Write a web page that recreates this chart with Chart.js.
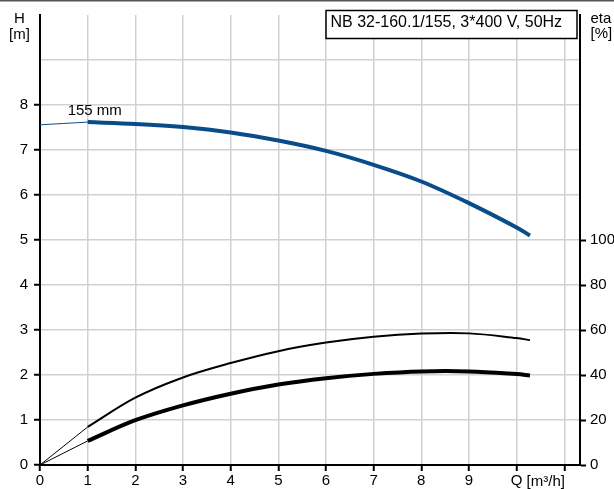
<!DOCTYPE html>
<html>
<head>
<meta charset="utf-8">
<script src="https://cdn.jsdelivr.net/npm/chart.js@4"></script>
<style>
  html, body { margin: 0; padding: 0; background: #fff; }
  #wrap { width: 614px; height: 489px; }
</style>
</head>
<body>
<div id="wrap"><canvas id="pumpChart" width="614" height="489"></canvas></div>
<script>
// flow points of the duty curves (m3/h)
const flowQ = [1, 2, 3, 4, 5, 6, 7, 8, 9, 10, 10.28];
const headH = [7.62, 7.58, 7.51, 7.39, 7.21, 6.98, 6.67, 6.30, 5.82, 5.28, 5.10];
const etaPump = [16.9, 29.9, 38.9, 45.3, 50.6, 54.4, 57.0, 58.4, 58.5, 56.4, 55.5];
const etaTotal = [10.7, 19.9, 26.5, 31.7, 35.8, 38.6, 40.5, 41.6, 41.6, 40.4, 39.8];

// thin run-in parts from Q = 0 to Q = 1
const startQ = [0, 1];
const headStart = [7.56, 7.62];
const etaPumpStart = [0, 16.9];
const etaTotalStart = [0, 10.7];

const qTicks = [0, 1, 2, 3, 4, 5, 6, 7, 8, 9, 10, 11];
const hTicks = [0, 1, 2, 3, 4, 5, 6, 7, 8, 9];
const etaTicks = [0, 20, 40, 60, 80, 100];

const title = 'NB 32-160.1/155, 3*400 V, 50Hz';
const curveLabel = '155 mm';

const FONT = "'Liberation Sans', Arial, sans-serif";
const gridGray = '#cfd2d5';
const blue = '#084d89';

const pts = (xs, ys) => xs.map((x, i) => ({ x: x, y: ys[i] }));

const decor = {
  id: 'decor',
  afterDraw(chart) {
    const c = chart.ctx;
    const x = chart.scales.x, y = chart.scales.y;
    c.save();
    // top border of the picture
    c.fillStyle = '#555';
    c.fillRect(0, 0, chart.width, 1.5);

    // title box
    c.fillStyle = '#fff';
    c.fillRect(326, 10.5, 251, 28);
    c.strokeStyle = '#000';
    c.lineWidth = 1.5;
    c.strokeRect(326, 10.5, 251, 28);
    c.fillStyle = '#000';
    c.font = '16px ' + FONT;
    c.textAlign = 'left';
    c.textBaseline = 'alphabetic';
    c.fillText(title, 330.5, 26.5);

    // axis titles
    c.font = '15px ' + FONT;
    c.textAlign = 'center';
    c.fillText('H', 19.5, 22.7);
    c.fillText('[m]', 19.5, 38.5);
    c.textAlign = 'left';
    c.fillText('eta', 590.5, 23.3);
    c.fillText('[%]', 590.5, 37.5);

    // unit after the Q tick
    const q10 = x.getPixelForValue(10);
    c.fillText('[m\u00b3/h]', q10 + 10, 485.5);

    // curve label
    c.fillText(curveLabel, x.getPixelForValue(0.58), y.getPixelForValue(7.77));
    c.restore();
  }
};

new Chart(document.getElementById('pumpChart'), {
  type: 'line',
  data: {
    datasets: [
      { data: pts(startQ, headStart), borderColor: blue, borderWidth: 1, yAxisID: 'y' },
      { data: pts(startQ, etaPumpStart), borderColor: '#000', borderWidth: 1, yAxisID: 'y2' },
      { data: pts(startQ, etaTotalStart), borderColor: '#000', borderWidth: 1, yAxisID: 'y2' },
      { data: pts(flowQ, headH), borderColor: blue, borderWidth: 4, yAxisID: 'y' },
      { data: pts(flowQ, etaPump), borderColor: '#000', borderWidth: 2, yAxisID: 'y2' },
      { data: pts(flowQ, etaTotal), borderColor: '#000', borderWidth: 4, yAxisID: 'y2' }
    ]
  },
  options: {
    responsive: false,
    animation: false,
    layout: { padding: { top: 10 } },
    elements: {
      point: { radius: 0 },
      line: { tension: 0.35, fill: false, borderCapStyle: 'butt' }
    },
    plugins: { legend: { display: false }, tooltip: { enabled: false } },
    scales: {
      x: {
        type: 'linear',
        min: 0,
        max: 11.33,
        afterBuildTicks: s => { s.ticks = qTicks.map(v => ({ value: v })); },
        afterFit: s => { s.height = 24; },
        border: { color: '#000', width: 2 },
        grid: {
          color: ctx => ctx.tick && ctx.tick.value === 0 ? 'transparent' : gridGray,
          lineWidth: 1.5,
          tickColor: '#000',
          tickLength: 6,
          tickWidth: 2
        },
        ticks: {
          autoSkip: false,
          maxRotation: 0,
          padding: 1,
          color: '#000',
          font: { family: FONT, size: 15 },
          callback: v => v === 10 ? 'Q' : (v === 11 ? '' : v)
        }
      },
      y: {
        position: 'left',
        min: 0,
        max: 10,
        afterBuildTicks: s => { s.ticks = hTicks.map(v => ({ value: v })); },
        afterFit: s => { s.width = 40; },
        border: { color: '#000', width: 2 },
        grid: {
          color: ctx => ctx.tick && ctx.tick.value === 0 ? 'transparent' : gridGray,
          lineWidth: 1.5,
          tickColor: ctx => ctx.tick && ctx.tick.value <= 8 ? '#000' : 'transparent',
          tickLength: 6,
          tickWidth: 2
        },
        ticks: {
          autoSkip: false,
          padding: 6,
          color: '#000',
          font: { family: FONT, size: 15 },
          callback: v => v <= 8 ? v : ''
        }
      },
      y2: {
        position: 'right',
        min: 0,
        max: 200,
        afterBuildTicks: s => { s.ticks = etaTicks.map(v => ({ value: v })); },
        afterFit: s => { s.width = 34; },
        border: { color: '#000', width: 2 },
        grid: {
          drawOnChartArea: false,
          tickColor: '#000',
          tickLength: 6,
          tickWidth: 2
        },
        ticks: {
          autoSkip: false,
          padding: 4,
          color: '#000',
          font: { family: FONT, size: 15 }
        }
      }
    }
  },
  plugins: [decor]
});
</script>
</body>
</html>
